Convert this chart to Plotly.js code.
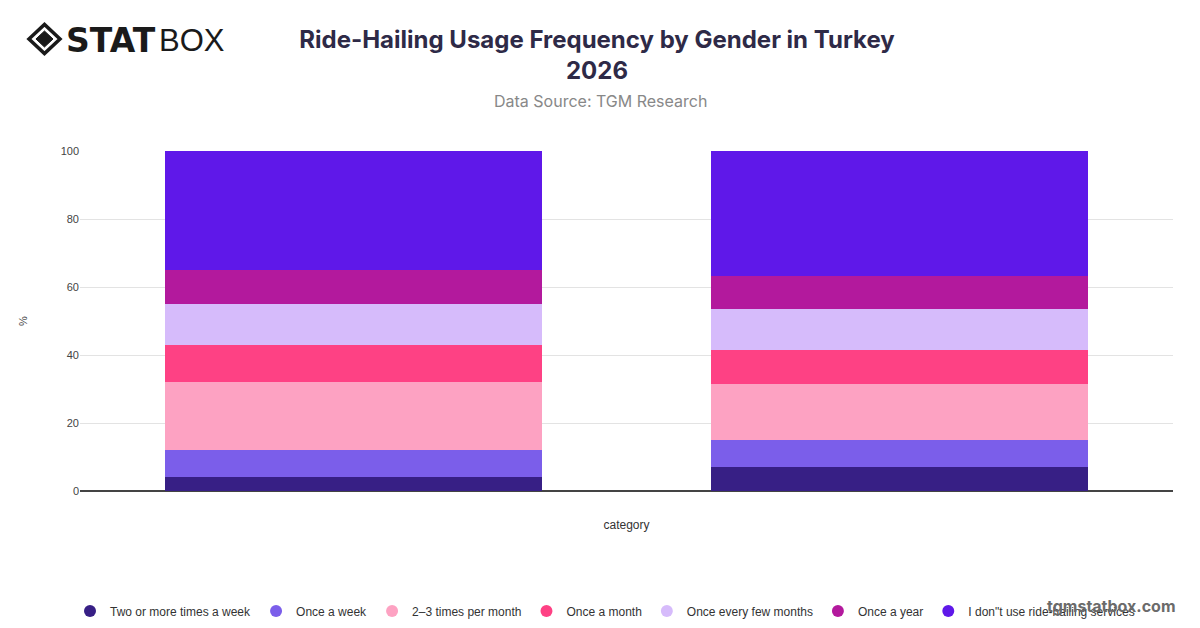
<!DOCTYPE html>
<html>
<head>
<meta charset="utf-8">
<script src="https://cdn.plot.ly/plotly-3.0.1.min.js"></script>
<style>html,body{margin:0;padding:0;background:#fff;}#chart{width:1200px;height:628px;}</style>
</head>
<body>
<div id="chart"></div>
<script>
const categories = ["Male", "Female"];
const seriesNames = [
  "Two or more times a week",
  "Once a week",
  "2–3 times per month",
  "Once a month",
  "Once every few months",
  "Once a year",
  "I don\"t use ride-hailing services"
];
const twoOrMore = [4, 7];
const onceWeek = [8, 8];
const twoThreeMonth = [20, 16.6];
const onceMonth = [11, 10];
const fewMonths = [12, 11.8];
const onceYear = [10, 9.9];
const dontUse = [35, 36.7];
const seriesValues = [twoOrMore, onceWeek, twoThreeMonth, onceMonth, fewMonths, onceYear, dontUse];
const seriesColors = ["#371F85", "#7B5EEA", "#FDA2C2", "#FE4184", "#D6BBFB", "#B3199D", "#5F18E9"];
const yTicks = [0, 20, 40, 60, 80, 100];

// plot-area geometry (pixels) used to place page decorations in paper coords
const PL = 80, PT = 151, PW = 1093, PH = 340;
const px = x => (x - PL) / PW;
const py = y => 1 - (y - PT) / PH;

const traces = [];
seriesNames.forEach((name, i) => {
  traces.push({
    type: "bar", name: name, x: categories, y: seriesValues[i],
    marker: {color: seriesColors[i], line: {width: 0}},
    showlegend: false, hoverinfo: "y+name"
  });
});
seriesNames.forEach((name, i) => {
  traces.push({
    type: "scatter", mode: "markers", name: name, x: [null], y: [null],
    marker: {color: seriesColors[i], size: 13, symbol: "circle"},
    showlegend: true, hoverinfo: "skip"
  });
});

const toPath = arr => "M " + arr.map(p => px(p[0]).toFixed(4) + " " + py(p[1]).toFixed(4)).join(" L ") + " Z";

const layout = {
  width: 1200, height: 628,
  paper_bgcolor: "#fff", plot_bgcolor: "#fff",
  font: {family: "'Liberation Sans', Arial, sans-serif", color: "#444"},
  margin: {l: PL, r: 27, t: PT, b: 137, autoexpand: false},
  barmode: "stack", bargap: 0.31,
  title: {
    text: "<b>Ride-Hailing Usage Frequency by Gender in Turkey<br>2026</b>",
    x: 0.4975, xanchor: "center", xref: "container",
    y: 0.924, yanchor: "top", yref: "container",
    font: {size: 24, color: "#2E2A47", family: "Inter, sans-serif"}
  },
  xaxis: {
    title: {text: "category", font: {size: 12, color: "#333"}, standoff: 29},
    showticklabels: false, showgrid: false, zeroline: false,
    showline: false, ticks: ""
  },
  yaxis: {
    title: {text: "%", font: {size: 11, color: "#444"}, standoff: 30},
    range: [0, 100], tickvals: yTicks, ticktext: yTicks.map(String),
    tickfont: {size: 11, color: "#444"},
    showgrid: true, gridcolor: "#E3E3E3", gridwidth: 1,
    zeroline: true, zerolinecolor: "#444", zerolinewidth: 1.5,
    ticks: "", ticklen: 0
  },
  legend: {
    orientation: "h", xref: "paper", yref: "paper",
    x: px(70), xanchor: "left", y: py(611), yanchor: "middle",
    font: {size: 12, color: "#333", family: "'Liberation Sans', Arial, sans-serif"},
    tracegroupgap: 0, traceorder: "normal", itemsizing: "constant"
  },
  annotations: [
    {text: "Data Source: TGM Research", xref: "paper", yref: "paper",
     x: px(600), y: py(101), xanchor: "center", yanchor: "middle",
     showarrow: false, font: {size: 16, color: "#888", family: "Inter, sans-serif"}},
    {text: "<b>tgmstatbox.com</b>", xref: "paper", yref: "paper",
     x: px(1178), y: py(606), xanchor: "right", yanchor: "middle",
     showarrow: false, font: {size: 16, color: "#6b6b6b", family: "Inter, sans-serif"}},
    {text: "<b>STAT</b>", xref: "paper", yref: "paper",
     x: px(64), y: py(40), xanchor: "left", yanchor: "middle",
     showarrow: false, font: {size: 33, color: "#1a1a1a", family: "'DejaVu Sans', sans-serif"}},
    {text: "BOX", xref: "paper", yref: "paper",
     x: px(157), y: py(40), xanchor: "left", yanchor: "middle",
     showarrow: false, font: {size: 31, color: "#1a1a1a", family: "'Liberation Sans', sans-serif"}}
  ],
  shapes: [
    {type: "path", xref: "paper", yref: "paper",
     path: toPath([[29, 39], [44.5, 24.5], [60, 39], [44.5, 53.5]]),
     line: {color: "#1a1a1a", width: 3.5}, fillcolor: "rgba(0,0,0,0)"},
    {type: "path", xref: "paper", yref: "paper",
     path: toPath([[36, 39], [44.5, 31], [53, 39], [44.5, 47]]),
     line: {color: "#1a1a1a", width: 1}, fillcolor: "#1a1a1a"}
  ]
};

Plotly.newPlot("chart", traces, layout, {displayModeBar: false, staticPlot: true});
</script>
</body>
</html>
